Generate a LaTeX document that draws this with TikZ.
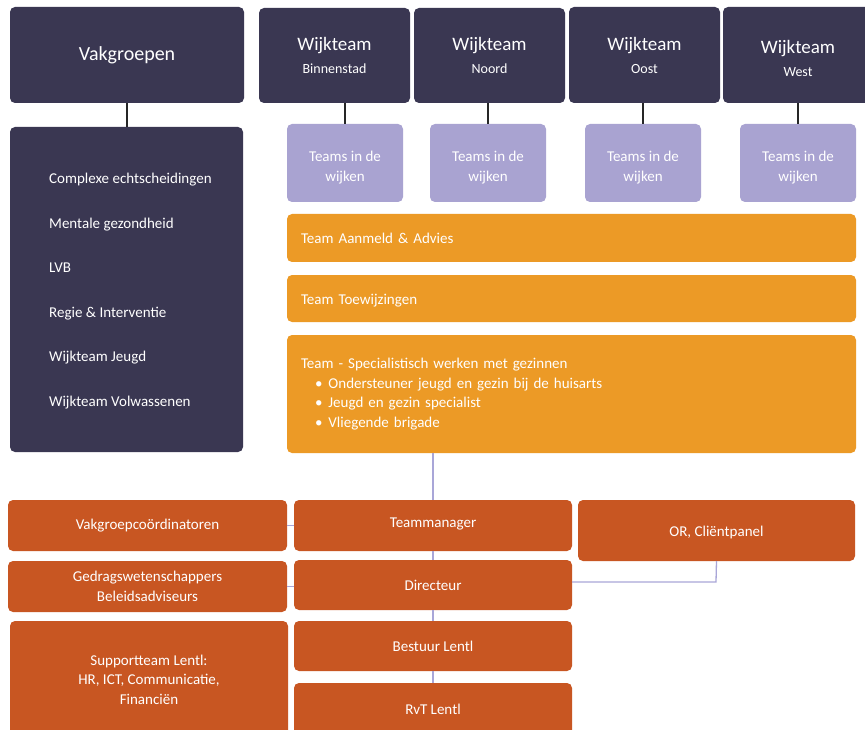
\documentclass[tikz,border=0pt]{standalone}
\usepackage{fontspec}
\setmainfont{Carlito}
\definecolor{navy}{HTML}{3A3752}
\definecolor{lilac}{HTML}{A9A3D1}
\definecolor{amber}{HTML}{EC9A26}
\definecolor{rust}{HTML}{C85622}
\definecolor{lineP}{HTML}{A9A6D8}
\tikzset{
  box/.style={rounded corners=5pt, inner sep=0pt, outer sep=0pt, anchor=north west, text=white, align=center},
  darkbox/.style={box, fill=navy},
  wijk/.style={darkbox, font=\fontsize{19}{23}\selectfont},
  lilbox/.style={box, fill=lilac, font=\fontsize{15}{20}\selectfont},
  ambox/.style={box, fill=amber, align=left, inner xsep=14pt, font=\fontsize{15}{19.5}\selectfont},
  rustbox/.style={box, fill=rust, font=\fontsize{15}{19.5}\selectfont},
  darkline/.style={draw=black!85, line width=1.2pt},
  lightline/.style={draw=lineP, line width=1.3pt},
}
\newcommand{\bx}[6]{\node[#1, minimum width=#4pt, minimum height=#5pt] (#2) at #3 {#6};}
\newcommand{\sub}[1]{{\fontsize{14}{17}\selectfont #1}}
\begin{document}
\begin{tikzpicture}[x=1pt,y=-1pt]
\useasboundingbox (0,0) rectangle (865,730);
\fill[white] (0,0) rectangle (865,730);
\clip (0,0) rectangle (865,730);
% top dark boxes
\bx{darkbox, font=\fontsize{20}{24}\selectfont}{vak}{(10,7)}{234}{96}{Vakgroepen}
\bx{wijk}{wb}{(259,8)}{151}{95}{Wijkteam\\\sub{Binnenstad}}
\bx{wijk}{wn}{(414,8)}{151}{95}{Wijkteam\\\sub{Noord}}
\bx{wijk}{wo}{(569,7)}{151}{96}{Wijkteam\\\sub{Oost}}
\bx{wijk}{ww}{(723,7)}{150}{96}{\rule{0pt}{21pt}Wijkteam\\\sub{West}}
% vakgroepen list
\bx{darkbox}{vlist}{(10,127)}{233}{325}{}
\node[anchor=west, align=left, text=white, inner sep=0pt, font=\fontsize{15}{44.6}\selectfont] (vtext) at (49,291) {Complexe echtscheidingen\\Mentale gezondheid\\LVB\\Regie \& Interventie\\Wijkteam Jeugd\\Wijkteam Volwassenen};
% teams in de wijken
\bx{lilbox}{t1}{(287,124)}{116}{78}{\rule{0pt}{19pt}Teams in de\\wijken}
\bx{lilbox}{t2}{(430,124)}{116}{78}{\rule{0pt}{19pt}Teams in de\\wijken}
\bx{lilbox}{t3}{(585,124)}{116}{78}{\rule{0pt}{19pt}Teams in de\\wijken}
\bx{lilbox}{t4}{(740,124)}{116}{78}{\rule{0pt}{19pt}Teams in de\\wijken}
% orange team boxes
\node[ambox, minimum width=569pt, minimum height=48pt, text width=541pt] (aa) at (287,214) {Team Aanmeld \& Advies};
\node[ambox, minimum width=569pt, minimum height=47pt, text width=541pt] (tw) at (287,275) {\rule{0pt}{14pt}Team Toewijzingen};
\node[ambox, minimum width=569pt, minimum height=118pt, text width=541pt] (sp) at (287,335) {Team - Specialistisch werken met gezinnen\\
\hspace*{14pt}\textbullet\hspace{6pt}Ondersteuner jeugd en gezin bij de huisarts\\
\hspace*{14pt}\textbullet\hspace{6pt}Jeugd en gezin specialist\\
\hspace*{14pt}\textbullet\hspace{6pt}Vliegende brigade\\[-1pt]};
% bottom boxes
\bx{rustbox}{vc}{(8,500)}{279}{51}{Vakgroepcoördinatoren}
\bx{rustbox}{tm}{(294,500)}{278}{51}{Teammanager\\[-14pt]}
\bx{rustbox}{orc}{(578,500)}{277}{61}{\rule{0pt}{15pt}OR, Cliëntpanel}
\bx{rustbox}{gw}{(8,561)}{279}{51}{Gedragswetenschappers\\Beleidsadviseurs}
\bx{rustbox}{dir}{(294,560)}{278}{50}{Directeur}
\bx{rustbox}{sup}{(10,621)}{278}{125}{Supportteam Lentl:\\HR, ICT, Communicatie,\\Financiën\\[-11.5pt]}
\bx{rustbox}{bes}{(294,621)}{278}{50}{Bestuur Lentl}
\bx{rustbox}{rvt}{(294,683)}{278}{60}{RvT Lentl\\[-11.5pt]}
% connectors
\draw[darkline] (vak.south) -- (vak.south |- vlist.north);
\draw[darkline] (wb.south -| t1.north) -- (t1.north);
\draw[darkline] (wn.south -| t2.north) -- (t2.north);
\draw[darkline] (wo.south -| t3.north) -- (t3.north);
\draw[darkline] (ww.south -| t4.north) -- (t4.north);
\coordinate (spb) at (433,453);
\draw[lightline] (spb) -- (tm.north -| spb);
\draw[lightline] (tm.south -| spb) -- (dir.north -| spb);
\draw[lightline] (dir.south -| spb) -- (bes.north -| spb);
\draw[lightline] (bes.south -| spb) -- (rvt.north -| spb);
\draw[lightline] (vc.east) -- (tm.west |- vc.east);
\draw[lightline] (gw.east) -- (dir.west |- gw.east);
\coordinate (orj) at (716,582);
\draw[lightline] (orc.south) -- (orj) -- (dir.east |- orj);
\end{tikzpicture}
\end{document}
